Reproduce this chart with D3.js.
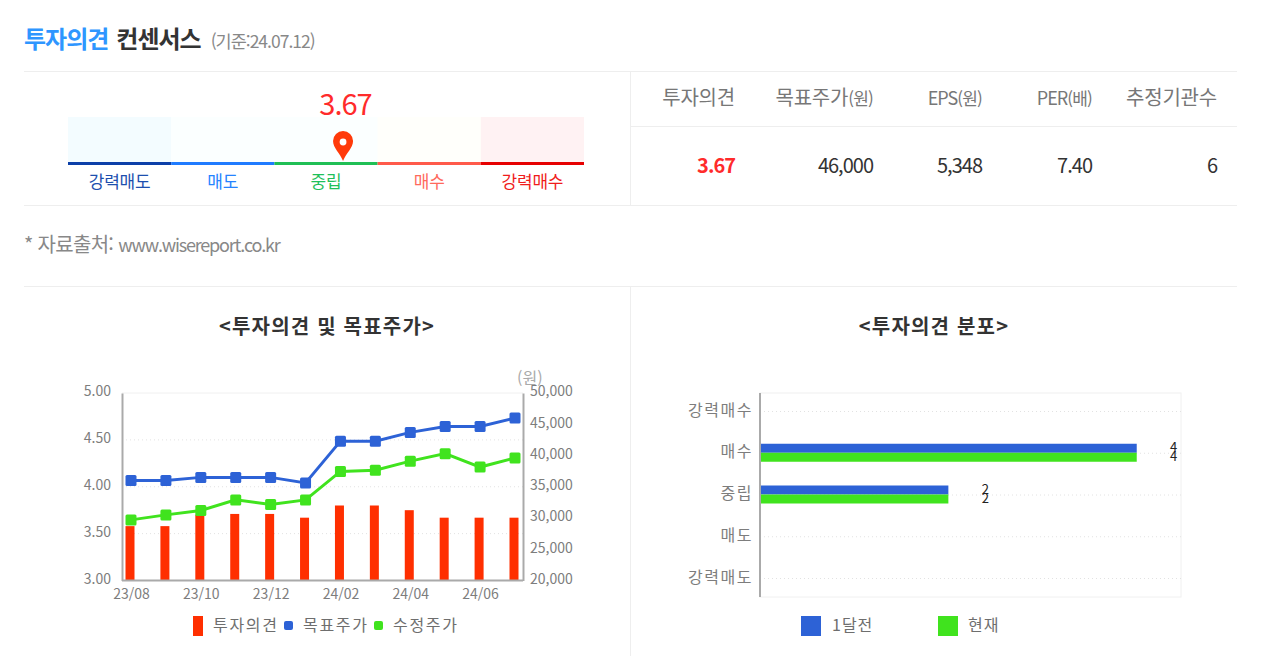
<!DOCTYPE html>
<html lang="ko">
<head>
<meta charset="utf-8">
<title>투자의견 컨센서스</title>
<script src="https://cdn.jsdelivr.net/npm/d3@7"></script>
<style>
html, body { margin: 0; padding: 0; background: #fff; overflow: hidden; }
svg { display: block; }
text { font-family: "Noto Sans CJK KR", "Noto Sans", sans-serif; }
.grid { stroke: #e2e2e2; stroke-dasharray: 1 3; }
.frame { stroke: #f0f0f0; }
.tick text { fill: #7d7d7d; font-size: 14px; }
</style>
</head>
<body>
<svg id="chart" width="1266" height="656"></svg>
<script>
// gauge
var stages = ["강력매도", "매도", "중립", "매수", "강력매수"];
var stageLine = ["#0b3fa8", "#1f7bff", "#1fbf55", "#ff5a4a", "#e60000"];
var stageText = ["#1d4fae", "#2583ff", "#1fc05a", "#ff6a5c", "#f01c1c"];
var stageBack = ["#f3fcff", "#fbffff", "#fbffff", "#fffffb", "#fff2f3"];
var opinionNow = 3.67;

// table
var tableHead = [["투자의견", ""], ["목표주가", "(원)"], ["EPS", "(원)"], ["PER", "(배)"], ["추정기관수", ""]];
var tableVals = ["3.67", "46,000", "5,348", "7.40", "6"];

// left chart
var months = ["23/08", "23/09", "23/10", "23/11", "23/12", "24/01", "24/02", "24/03", "24/04", "24/05", "24/06", "24/07"];
var opinion = [3.58, 3.58, 3.70, 3.71, 3.71, 3.67, 3.80, 3.80, 3.75, 3.67, 3.67, 3.67];
var target = [36000, 36000, 36500, 36500, 36500, 35600, 42300, 42300, 43700, 44650, 44650, 46000];
var adjusted = [29700, 30500, 31200, 32900, 32150, 32900, 37450, 37650, 39100, 40300, 38150, 39600];
var leftTicks = [3, 3.5, 4, 4.5, 5];
var rightTicks = [20000, 25000, 30000, 35000, 40000, 45000, 50000];

// right chart
var grades = ["강력매수", "매수", "중립", "매도", "강력매도"];
var monthAgo = [0, 4, 2, 0, 0];
var current = [0, 4, 2, 0, 0];

var BLUE = "#2d62d6", GREEN = "#40e31e", RED = "#ff2f00";
var svg = d3.select("#chart");

function hline(x1, x2, y) {
    svg.append("line").attr("x1", x1).attr("x2", x2).attr("y1", y).attr("y2", y).attr("stroke", "#eeeeee");
}
function vline(x, y1, y2) {
    svg.append("line").attr("x1", x).attr("x2", x).attr("y1", y1).attr("y2", y2).attr("stroke", "#eeeeee");
}

/***** header *****/
var title = svg.append("text").attr("x", 24).attr("y", 48).attr("letter-spacing", -1);
title.append("tspan").attr("font-size", 24).attr("font-weight", 700).attr("fill", "#2e96ff").text("투자의견");
title.append("tspan").attr("dx", 8).attr("font-size", 24).attr("font-weight", 700).attr("fill", "#333").text("컨센서스");
title.append("tspan").attr("dx", 10).attr("font-size", 17.5).attr("fill", "#888").text("(기준:24.07.12)");

hline(24, 1237, 71.5);
hline(630, 1237, 126.5);
hline(24, 1237, 205.5);
hline(24, 1237, 286.5);
vline(630.5, 71, 205);
vline(630.5, 287, 656);

/***** gauge *****/
var gaugeBand = d3.scaleBand().domain(stages).range([68, 584]);
// pin position on the gauge, fitted to the picture
var gaugeX = d3.scaleLinear().domain([0, 6.885]).range([68, 584]);

var gauge = svg.append("g");
gauge.selectAll(".back").data(stages).enter().append("rect")
    .attr("x", function (d) { return gaugeBand(d); })
    .attr("y", 117).attr("height", 45)
    .attr("width", gaugeBand.bandwidth())
    .attr("fill", function (d, i) { return stageBack[i]; });
gauge.selectAll(".strip").data(stages).enter().append("rect")
    .attr("x", function (d) { return gaugeBand(d); })
    .attr("y", 162).attr("height", 3)
    .attr("width", gaugeBand.bandwidth())
    .attr("fill", function (d, i) { return stageLine[i]; });
gauge.selectAll(".label").data(stages).enter().append("text")
    .attr("x", function (d) { return gaugeBand(d) + gaugeBand.bandwidth() / 2; })
    .attr("y", 188).attr("text-anchor", "middle")
    .attr("font-size", 17).attr("letter-spacing", -0.2)
    .attr("fill", function (d, i) { return stageText[i]; })
    .text(function (d) { return d; });
gauge.append("text").attr("x", 345.5).attr("y", 115).attr("text-anchor", "middle")
    .attr("font-size", 29).attr("letter-spacing", -1).attr("fill", "#ff2b2b").text(opinionNow.toFixed(2));

var pin = gauge.append("g").attr("transform", "translate(" + gaugeX(opinionNow) + ",132)");
pin.append("path").attr("d", "M0,29 C-3,21 -10,16 -10,9 A10,10 0 1 1 10,9 C10,16 3,21 0,29 Z").attr("fill", "#ff3a0a");
pin.append("circle").attr("cx", 0).attr("cy", 10).attr("r", 3.4).attr("fill", "#fff");

/***** table *****/
var colRight = d3.scaleOrdinal().domain(d3.range(5)).range([735, 873, 982, 1092, 1217]);
tableHead.forEach(function (h, i) {
    var t = svg.append("text").attr("x", colRight(i)).attr("y", 105).attr("text-anchor", "end")
        .attr("fill", "#777");
    var latin = /[A-Z]/.test(h[0]);
    t.append("tspan").attr("font-size", latin ? 18 : 20).attr("letter-spacing", latin ? -1 : -0.2).text(h[0]);
    if (h[1]) t.append("tspan").attr("font-size", 17).attr("letter-spacing", -0.8).text(h[1]);
});
svg.selectAll(".cell").data(tableVals).enter().append("text")
    .attr("x", function (d, i) { return colRight(i); })
    .attr("y", 173).attr("text-anchor", "end")
    .attr("font-size", 20).attr("letter-spacing", -1)
    .attr("font-weight", function (d, i) { return i == 0 ? 700 : 400; })
    .attr("fill", function (d, i) { return i == 0 ? "#ff2b2b" : "#333"; })
    .text(function (d) { return d; });

var source = svg.append("text").attr("x", 24).attr("y", 252).attr("fill", "#888");
source.append("tspan").attr("font-size", 20).attr("letter-spacing", -0.7).text("* 자료출처:");
source.append("tspan").attr("dx", 5).attr("font-size", 18).attr("letter-spacing", -1.2).text("www.wisereport.co.kr");

/***** chart titles *****/
svg.append("text").attr("x", 327).attr("y", 334).attr("text-anchor", "middle")
    .attr("font-size", 20).attr("letter-spacing", 1.2).attr("font-weight", 700).attr("fill", "#333").text("<투자의견 및 목표주가>");
svg.append("text").attr("x", 934).attr("y", 334).attr("text-anchor", "middle")
    .attr("font-size", 20).attr("letter-spacing", 1.2).attr("font-weight", 700).attr("fill", "#333").text("<투자의견 분포>");

/***** left chart: opinion bars + price lines *****/
var lx = d3.scalePoint().domain(months).range([131, 515]);
var lyOpinion = d3.scaleLinear().domain([3, 5]).range([580.5, 393]);
var lyPrice = d3.scaleLinear().domain([20000, 50000]).range([580.5, 393]);

var left = svg.append("g");
left.selectAll(".grid").data(leftTicks.slice(1)).enter().append("line")
    .attr("class", function (d) { return d == 5 ? "frame" : "grid"; })
    .attr("x1", 122).attr("x2", 523)
    .attr("y1", function (d) { return lyOpinion(d); })
    .attr("y2", function (d) { return lyOpinion(d); });

left.selectAll(".bar").data(opinion).enter().append("rect")
    .attr("x", function (d, i) { return lx(months[i]) - 5.5; })
    .attr("width", 9)
    .attr("y", function (d) { return lyOpinion(d); })
    .attr("height", function (d) { return lyOpinion(3) - lyOpinion(d); })
    .attr("fill", RED);

function priceLine(values, color) {
    var line = d3.line()
        .x(function (d, i) { return lx(months[i]); })
        .y(function (d) { return lyPrice(d); });
    left.append("path").attr("d", line(values)).attr("fill", "none").attr("stroke", color).attr("stroke-width", 3);
    left.selectAll(".pt" + color.slice(1)).data(values).enter().append("rect")
        .attr("x", function (d, i) { return lx(months[i]) - 5.5; })
        .attr("y", function (d) { return lyPrice(d) - 5.5; })
        .attr("width", 11).attr("height", 11).attr("rx", 1.5)
        .attr("fill", color);
}
priceLine(target, BLUE);
priceLine(adjusted, GREEN);

var axisStyle = function (g) {
    g.select(".domain").attr("stroke", "#aaaaaa").attr("stroke-width", 2);
    g.selectAll(".tick line").remove();
};
left.append("g").attr("transform", "translate(122,0)")
    .call(d3.axisLeft(lyOpinion).tickValues(leftTicks).tickFormat(d3.format(".2f")).tickSize(0).tickSizeOuter(0).tickPadding(11))
    .call(axisStyle)
    .selectAll("text").attr("dy", "0.21em");
left.append("g").attr("transform", "translate(523,0)")
    .call(d3.axisRight(lyPrice).tickValues(rightTicks).tickFormat(d3.format(",")).tickSize(0).tickSizeOuter(0).tickPadding(7))
    .call(axisStyle)
    .selectAll("text").attr("dy", "0.21em");
left.append("g").attr("transform", "translate(0,580.5)")
    .call(d3.axisBottom(lx).tickValues(months.filter(function (d, i) { return i % 2 == 0; })).tickSize(0).tickPadding(9))
    .call(function (g) { g.selectAll(".tick line").remove(); g.select(".domain").remove(); });
left.append("line").attr("x1", 122).attr("x2", 523).attr("y1", 580.5).attr("y2", 580.5)
    .attr("stroke", "#aaaaaa").attr("stroke-width", 2);
left.append("text").attr("x", 517).attr("y", 384).attr("font-size", 16).attr("fill", "#aaa").text("(원)");

// legend
left.append("rect").attr("x", 193).attr("y", 616).attr("width", 10).attr("height", 20).attr("fill", RED);
left.append("rect").attr("x", 284).attr("y", 621).attr("width", 9).attr("height", 9).attr("rx", 2).attr("fill", BLUE);
left.append("rect").attr("x", 374).attr("y", 621).attr("width", 9).attr("height", 9).attr("rx", 2).attr("fill", GREEN);
[["투자의견", 213], ["목표주가", 303], ["수정주가", 393]].forEach(function (d) {
    left.append("text").attr("x", d[1]).attr("y", 631).attr("font-size", 16)
        .attr("letter-spacing", 1.7).attr("fill", "#6e6e6e").text(d[0]);
});

/***** right chart: distribution *****/
var rx = d3.scaleLinear().domain([0, 4.47]).range([760, 1181]);
var ry = d3.scalePoint().domain(grades).range([411, 578]);

var right = svg.append("g");
right.append("rect").attr("x", 760).attr("y", 393).attr("width", 421).attr("height", 204)
    .attr("fill", "none").attr("class", "frame");
right.selectAll(".grid").data(grades).enter().append("line")
    .attr("class", "grid")
    .attr("x1", 760).attr("x2", 1181)
    .attr("y1", function (d) { return ry(d) + 0.5; })
    .attr("y2", function (d) { return ry(d) + 0.5; });

function hBars(values, color, top) {
    right.selectAll(".b" + top).data(values).enter().append("rect")
        .attr("x", rx(0))
        .attr("y", function (d, i) { return ry(grades[i]) + top; })
        .attr("width", function (d) { return rx(d) - rx(0); })
        .attr("height", 9)
        .attr("fill", color);
    right.selectAll(".n" + top).data(values).enter().append("text")
        .filter(function (d) { return d > 0; })
        .attr("x", function (d) { return rx(d) + 37; })
        .attr("y", function (d) { return ry(grades[values.indexOf(d)]) + top + 8.5; })
        .attr("text-anchor", "middle").attr("font-size", 13).attr("fill", "#222")
        .text(function (d) { return d; });
}
hBars(monthAgo, BLUE, -9);
hBars(current, GREEN, 0);

right.append("g").attr("transform", "translate(760,0)")
    .call(d3.axisLeft(ry).tickSize(0).tickSizeOuter(0).tickPadding(7))
    .call(function (g) {
        g.select(".domain").attr("stroke", "#aaaaaa").attr("stroke-width", 2).attr("d", "M0,393V597");
        g.selectAll("text").style("font-size", "16px").attr("letter-spacing", 1.5).attr("dy", "0.26em");
    });

right.append("rect").attr("x", 801).attr("y", 616).attr("width", 20).attr("height", 20).attr("fill", BLUE);
right.append("rect").attr("x", 938).attr("y", 616).attr("width", 20).attr("height", 20).attr("fill", GREEN);
[["1달전", 832], ["현재", 968]].forEach(function (d) {
    right.append("text").attr("x", d[1]).attr("y", 631).attr("font-size", 16)
        .attr("letter-spacing", 1).attr("fill", "#6e6e6e").text(d[0]);
});
</script>
</body>
</html>
